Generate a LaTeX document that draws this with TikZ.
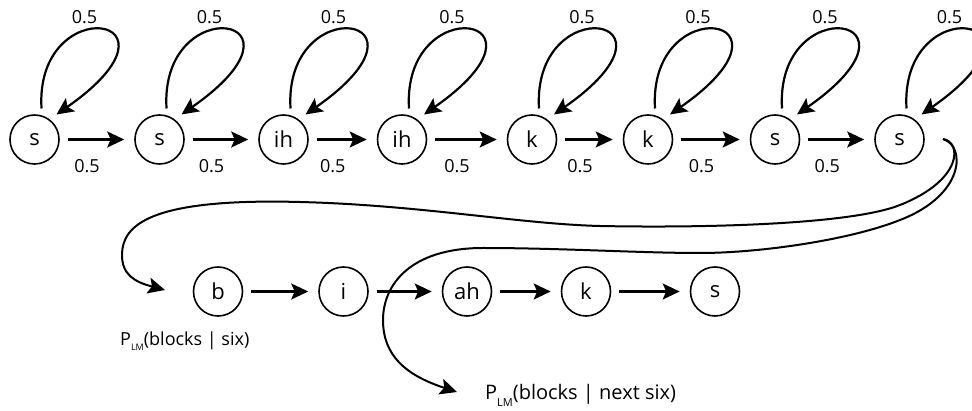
\documentclass[tikz,border=0pt]{standalone}
\usepackage{fontspec}
\setmainfont{Open Sans}
\usetikzlibrary{arrows.meta,calc}
\begin{document}
\begin{tikzpicture}[x=1pt,y=-1pt,
  state/.style={circle, draw, line width=1.6pt, minimum size=49pt, inner sep=0pt, font=\fontsize{22}{22}\selectfont},
  tip/.style={-{Stealth[length=17pt,width=16pt,inset=3.5pt]}},
  arr/.style={line width=2.2pt, tip},
  harr/.style={arr, shorten <=8pt, shorten >=10pt},
  curve/.style={line width=2pt, tip},
  lbl/.style={font=\fontsize{18}{18}\selectfont, inner sep=0pt}]
\useasboundingbox (0,0) rectangle (972,411);
\clip (0,0) rectangle (972,411);

% top row
\node[state] (t1) at (34.5,139.5) {s};
\node[state] (t2) at (159.5,139.5) {s};
\node[state] (t3) at (283.5,139.5) {ih};
\node[state] (t4) at (402,139.5) {ih};
\node[state] (t5) at (532,139.5) {k};
\node[state] (t6) at (648,139.5) {k};
\node[state] (t7) at (775,139.5) {s};
\node[state] (t8) at (899.5,139.5) {s};

% bottom row
\node[state] (b1) at (218,291.5) {b};
\node[state] (b2) at (343.5,291.5) {i};
\node[state] (b3) at (467,291.5) {ah};
\node[state] (b4) at (586,291.5) {k};
\node[state] (b5) at (715,291.5) {s};

% self loops and their labels
\foreach \n in {t1,t2,t3,t4,t5,t6,t7,t8}{
  \draw[arr] ($(\n)+(7,-31)$) .. controls +(-7,-119) and +(143,-100) .. ($(\n)+(22,-25)$);
  \node[lbl] (\n-loop) at ($(\n)+(50,-122.5)$) {0.5};
}

% horizontal arrows with labels
\foreach \a/\b in {t1/t2,t2/t3,t3/t4,t4/t5,t5/t6,t6/t7,t7/t8}{
  \draw[harr] (\a) -- (\b);
  \node[lbl] (\a-\b) at ($($(\a)!0.5!(\b)$)+(-10,27)$) {0.5};
}

\foreach \a/\b in {b1/b2,b2/b3,b3/b4,b4/b5}{
  \draw[harr] (\a) -- (\b);
}

% long curves
\coordinate (cs) at ($(t8)+(43.5,-0.5)$);
\coordinate (e1) at ($(b1)+(-53,-1.5)$);
\coordinate (e2) at ($(b3)+(-10,100.5)$);

\draw[curve] (cs) .. controls (962,142) and (963,180) .. (900,205)
  .. controls (850,225) and (700,228) .. (600,226)
  .. controls (520,224) and (420,205) .. (300,202)
  .. controls (150,198) and (122,225) .. (122,255)
  .. controls (122,275) and (135,282) .. (e1);

\draw[curve] (cs) .. controls (966,146) and (965,195) .. (900,220)
  .. controls (850,240) and (760,253) .. (700,253)
  .. controls (640,253) and (560,248) .. (483,248)
  .. controls (410,248) and (383,285) .. (383,320)
  .. controls (383,355) and (405,375) .. (e2);

% language model labels
\node[lbl, anchor=base west] (lm1) at (120,346) {P\raisebox{-5pt}{\fontsize{9}{9}\selectfont LM}(blocks | six)};
\node[lbl, anchor=base west, font=\fontsize{20}{20}\selectfont] (lm2) at (485,400) {P\raisebox{-6pt}{\fontsize{11}{11}\selectfont LM}(blocks | next six)};
\end{tikzpicture}
\end{document}
